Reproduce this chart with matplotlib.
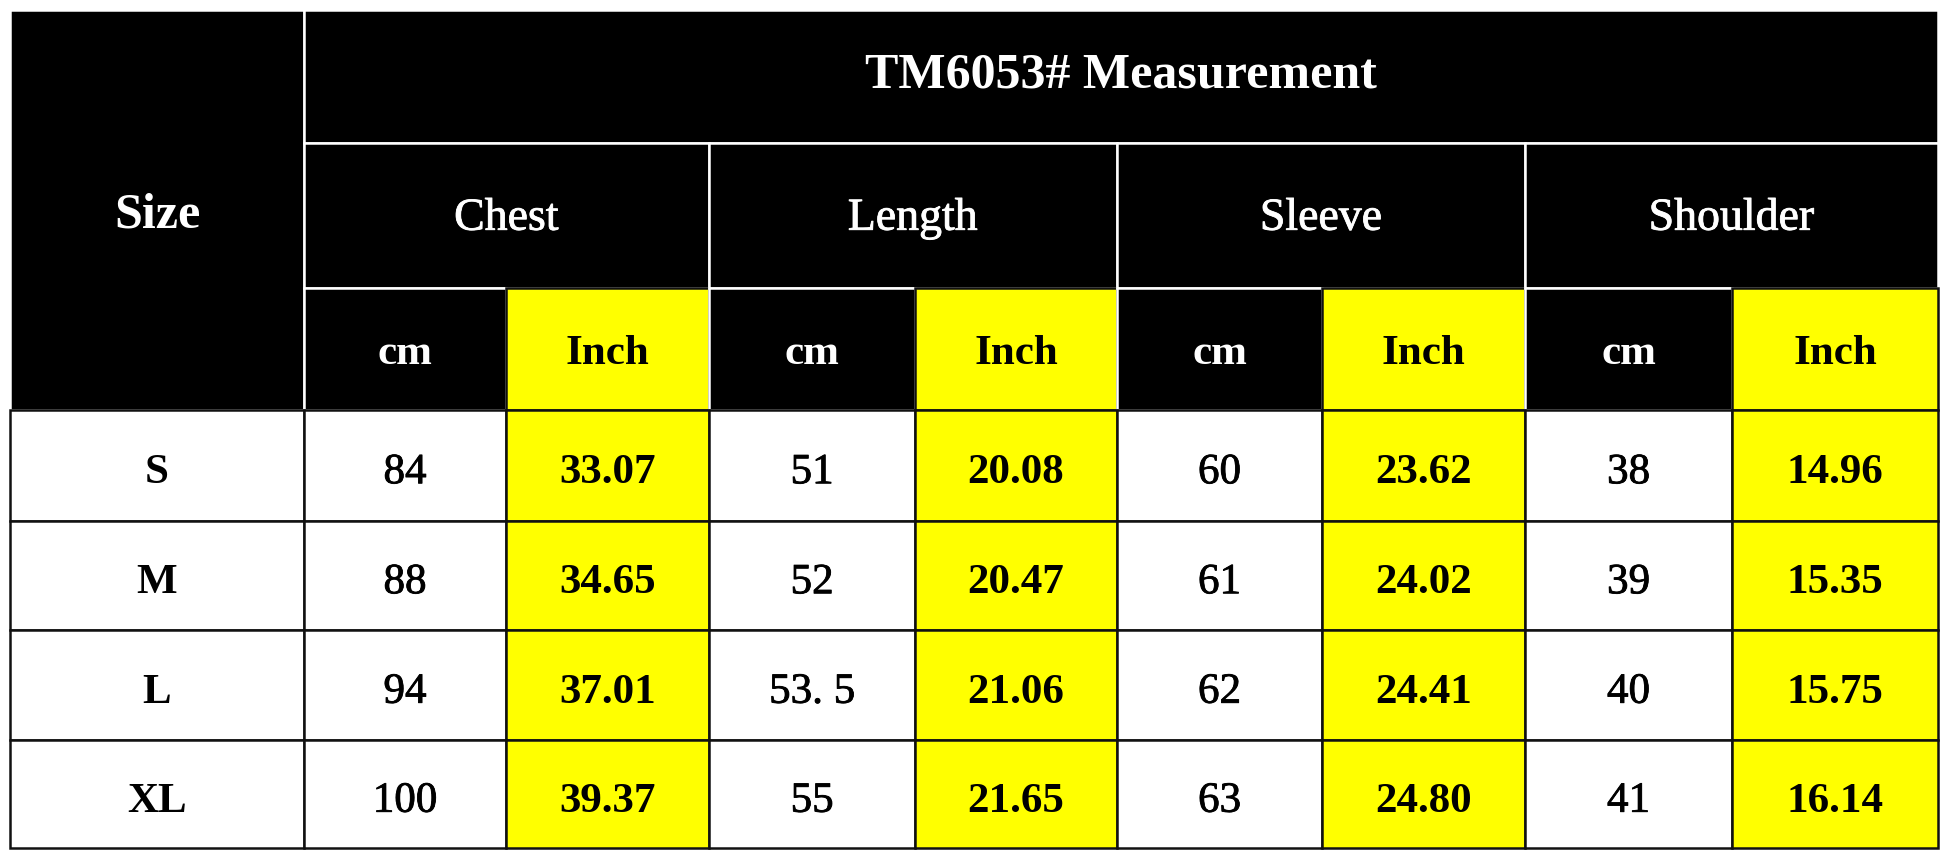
import numpy as np
import matplotlib
matplotlib.use("Agg")
import matplotlib.pyplot as plt
import matplotlib.patheffects as pe
from matplotlib.patches import Rectangle

title = "TM6053# Measurement"
sizes = ["S", "M", "L", "XL"]
measures = ["Chest", "Length", "Sleeve", "Shoulder"]
units = ["cm", "Inch"]

chest_cm = ["84", "88", "94", "100"]
chest_in = ["33.07", "34.65", "37.01", "39.37"]
length_cm = ["51", "52", "53. 5", "55"]
length_in = ["20.08", "20.47", "21.06", "21.65"]
sleeve_cm = ["60", "61", "62", "63"]
sleeve_in = ["23.62", "24.02", "24.41", "24.80"]
shoulder_cm = ["38", "39", "40", "41"]
shoulder_in = ["14.96", "15.35", "15.75", "16.14"]

columns = [chest_cm, chest_in, length_cm, length_in,
           sleeve_cm, sleeve_in, shoulder_cm, shoulder_in]

# layout (pixels)
col_w = [294, 202, 203, 206, 202, 205, 203, 207, 206]
row_h = [133, 145, 122, 111, 109, 110, 108]
x0, y0 = 10, 10
xe = x0 + np.concatenate([[0], np.cumsum(col_w)])
ye = y0 + np.concatenate([[0], np.cumsum(row_h)])

BLACK = "#000000"
YELLOW = "#ffff00"
FONT = "Liberation Serif"

fig = plt.figure(figsize=(19.46, 8.55), dpi=100)
ax = fig.add_axes([0, 0, 1, 1])
ax.set_xlim(0, 1946)
ax.set_ylim(855, 0)
ax.axis("off")


def cell(c0, c1, r0, r1, face, edge, text, color, size, weight, dy=0):
    ax.add_patch(Rectangle((xe[c0], ye[r0]), xe[c1] - xe[c0], ye[r1] - ye[r0],
                           facecolor=face, edgecolor=edge, linewidth=1.8))
    t = ax.text((xe[c0] + xe[c1]) / 2, (ye[r0] + ye[r1]) / 2 + dy, text,
                color=color, fontsize=size, fontweight=weight, family=FONT,
                ha="center", va="center_baseline")
    if weight == "normal":
        # the source text is a little heavier than regular
        t.set_path_effects([pe.withStroke(linewidth=0.6, foreground=color)])


# header
cell(0, 1, 0, 3, BLACK, "white", "Size", "white", 36, "bold", 0)
cell(1, 9, 0, 1, BLACK, "white", title, "white", 36, "bold", -7)
for i, m in enumerate(measures):
    cell(1 + 2 * i, 3 + 2 * i, 1, 2, BLACK, "white", m, "white", 33, "normal", -2)
    cell(1 + 2 * i, 2 + 2 * i, 2, 3, BLACK, "white", units[0], "white", 31, "bold", 0)
    cell(2 + 2 * i, 3 + 2 * i, 2, 3, YELLOW, "#111111", units[1], "black", 31, "bold", 0)

# body
for r, s in enumerate(sizes):
    cell(0, 1, 3 + r, 4 + r, "white", "#111111", s, "black", 31, "bold", 3)
    for c, vals in enumerate(columns):
        inch = c % 2 == 1
        cell(1 + c, 2 + c, 3 + r, 4 + r, YELLOW if inch else "white", "#111111",
             vals[r], "black", 31, "bold" if inch else "normal", 3)

fig.savefig("out.png", dpi=100, facecolor="white")
